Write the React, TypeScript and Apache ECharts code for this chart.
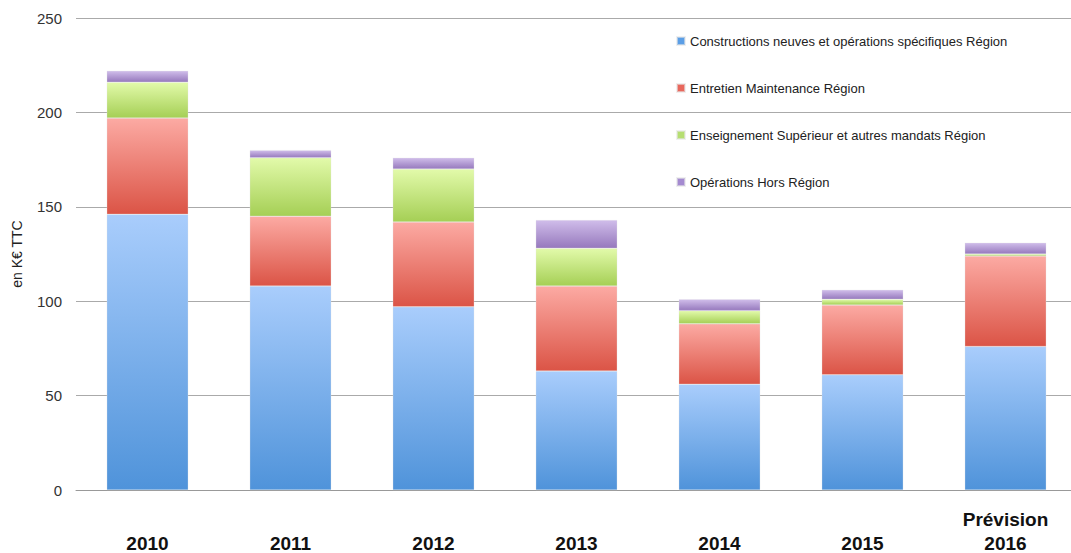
import React, { useEffect, useRef } from "react";
import * as echarts from "echarts";

const categories = ["2010", "2011", "2012", "2013", "2014", "2015", "Prévision\n2016"];
const seriesNames = [
  "Constructions neuves et opérations spécifiques Région",
  "Entretien Maintenance Région",
  "Enseignement Supérieur et autres mandats Région",
  "Opérations Hors Région",
];
const constructions = [146, 108, 97, 63, 56, 61, 76];
const entretien = [51, 37, 45, 45, 32, 37, 48];
const enseignement = [19, 31, 28, 20, 7, 3, 1];
const horsRegion = [6, 4, 6, 15, 6, 5, 6];
const yTicks = [0, 50, 100, 150, 200, 250];

const gradients = [
  ["#a9cdfc", "#4f93da"],
  ["#fcaaa3", "#db5446"],
  ["#e2faaa", "#a5cf55"],
  ["#d0bdea", "#9679bd"],
];
const legendColors = ["#5b9ee6", "#e8675c", "#b6de72", "#a48ad0"];

export default function App() {
  const ref = useRef<HTMLDivElement>(null);
  useEffect(() => {
    if (!ref.current) return;
    const chart = echarts.init(ref.current, undefined, { renderer: "svg" });
    const data = [constructions, entretien, enseignement, horsRegion];
    const font = "'Liberation Sans', Arial, sans-serif";
    chart.setOption({
      animation: false,
      textStyle: { fontFamily: font },
      grid: { left: 76, width: 1001, top: 18, height: 472 },
      legend: {
        orient: "vertical",
        left: 671,
        top: 28,
        itemWidth: 8,
        itemHeight: 8,
        itemGap: 31,
        icon: "rect",
        textStyle: { fontSize: 13, color: "#222", lineHeight: 16, fontFamily: font },
        data: seriesNames.map((n, i) => ({ name: n, itemStyle: { color: legendColors[i] } })),
      },
      xAxis: {
        type: "category",
        data: categories,
        axisLine: { lineStyle: { color: "#999", width: 1 } },
        axisTick: { show: false },
        axisLabel: {
          fontSize: 19,
          fontWeight: "bold",
          color: "#111",
          verticalAlign: "bottom",
          lineHeight: 24,
          margin: 65,
          fontFamily: font,
        },
      },
      yAxis: {
        type: "value",
        min: yTicks[0],
        max: yTicks[yTicks.length - 1],
        interval: 50,
        name: "en K€ TTC",
        nameLocation: "middle",
        nameGap: 52,
        nameRotate: 90,
        nameTextStyle: { fontSize: 14, color: "#222", fontFamily: font },
        axisLine: { show: false },
        axisTick: { show: false },
        axisLabel: { fontSize: 15, color: "#333", margin: 14, fontFamily: font },
        splitLine: { lineStyle: { color: "#aaa", width: 1 } },
      },
      series: data.map((d, i) => ({
        name: seriesNames[i],
        type: "bar",
        stack: "total",
        barWidth: "57%",
        data: d,
        itemStyle: {
          color: new echarts.graphic.LinearGradient(0, 0, 0, 1, [
            { offset: 0, color: gradients[i][0] },
            { offset: 1, color: gradients[i][1] },
          ]),
          borderColor: "rgba(230,230,230,0.6)",
          borderWidth: 0.5,
        },
      })),
    });
    return () => chart.dispose();
  }, []);
  return (
    <div
      ref={ref}
      style={{ position: "fixed", left: 0, top: 0, width: 1085, height: 560, background: "#fff" }}
    />
  );
}
